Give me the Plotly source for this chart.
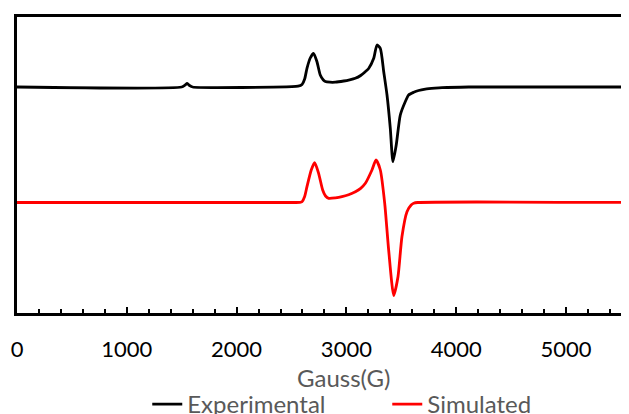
import plotly.graph_objects as go

# Magnetic field (Gauss) and signal (arbitrary units)
exp_field = [0, 1500, 1530, 1550, 1572, 1600, 2505, 2560, 2596, 2620, 2641, 2671, 2701, 2732,
             2762, 2790, 2808, 2850, 2899, 2976, 3030, 3081, 3130, 3172, 3203, 3249, 3279,
             3309, 3340, 3370, 3400, 3424, 3454, 3491, 3536, 3567, 3613, 3658, 3719, 3807,
             3871, 4114, 5600]
exp_signal = [0, 0, 1.8, 3.5, 1.5, 0, 0.3, 0.8, 2.5, 8, 18.7, 29, 33.7, 25.3,
              12, 7, 5.5, 4.8, 4.8, 6, 7.2, 8.7, 11.5, 15.3, 18.5, 28.7, 42,
              38.7, 15.3, -8, -41.3, -74.7, -58, -28, -14.7, -8, -5.3, -3.5, -2.2, -1.2,
              -0.7, 0, 0]

sim_field = [0, 2505, 2577, 2596, 2620, 2641, 2680, 2711, 2747, 2784, 2810, 2839, 2900,
             2960, 3020, 3082, 3130, 3173, 3233, 3270, 3309, 3349, 3385, 3431, 3470, 3506,
             3552, 3590, 3613, 3650, 5600]
sim_signal = [0, 0, 0.2, 0.8, 6, 15.8, 32.5, 39.8, 29.2, 12.5, 6.5, 4.2, 4.6,
              5.8, 7.8, 10.8, 14.2, 19.2, 32.5, 42.5, 32.5, -0.8, -47.5, -93, -74.2, -34.2,
              -9.2, -2.5, -0.8, 0, 0]

x_ticks = [0, 1000, 2000, 3000, 4000, 5000]
series_names = ["Experimental", "Simulated"]
x_title = "Gauss(G)"

EXP_OFFSET = 226
SIM_OFFSET = 110.5

FONT = "Lato"
GRAY = "#595959"

fig = go.Figure()
fig.add_trace(go.Scatter(
    x=exp_field, y=[v + EXP_OFFSET for v in exp_signal], mode="lines",
    name=series_names[0], line=dict(color="black", width=2.8, shape="spline", smoothing=0.6)))
fig.add_trace(go.Scatter(
    x=sim_field, y=[v + SIM_OFFSET for v in sim_signal], mode="lines",
    name=series_names[1], line=dict(color="#FF0000", width=2.8, shape="spline", smoothing=0.6)))

fig.update_layout(
    width=629, height=414,
    margin=dict(l=9, r=8, t=9, b=109, autoexpand=False),
    paper_bgcolor="white", plot_bgcolor="white",
    font=dict(family=FONT, size=22, color="black"),
    showlegend=True,
    legend=dict(orientation="h", x=0.605, xanchor="center", y=-0.233, yanchor="top",
                font=dict(family=FONT, size=24, color=GRAY), bgcolor="rgba(0,0,0,0)",
                tracegroupgap=0, itemwidth=30, entrywidth=195),
    xaxis=dict(range=[0, 5574], tickvals=x_ticks, ticktext=[str(t) for t in x_ticks],
               automargin=False,
               showgrid=False, zeroline=False, showline=True, linecolor="black", linewidth=3,
               mirror=True, ticks="inside", ticklen=6, tickwidth=2, tickcolor="black",
               ticklabelstandoff=15,
               minor=dict(dtick=200, ticks="inside", ticklen=4, tickwidth=2, tickcolor="black",
                          showgrid=False),
               tickfont=dict(family=FONT, size=22, color="black")),
    yaxis=dict(range=[0, 296], automargin=False, showgrid=False, zeroline=False, showline=True,
               linecolor="black", linewidth=3, showticklabels=False, ticks=""),
    annotations=[dict(text=x_title, x=2970, xref="x", y=-0.219, yref="paper",
                      xanchor="center", yanchor="middle", showarrow=False,
                      font=dict(family=FONT, size=24, color=GRAY))],
)

fig.write_html("out.html")
